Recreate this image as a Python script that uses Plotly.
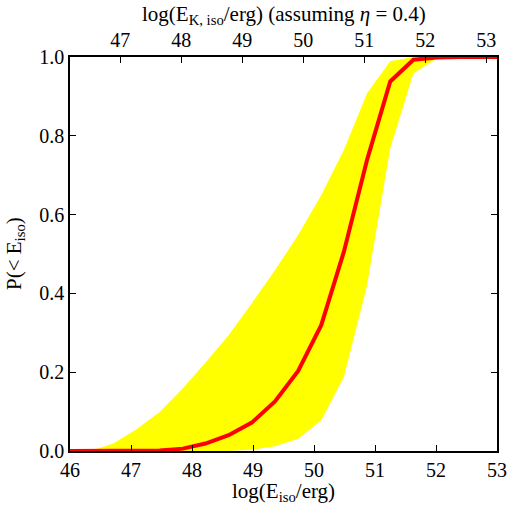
import math
import plotly.graph_objects as go

# grid of log(E_iso/erg)
log_e = [45.95, 46.33, 46.71, 47.09, 47.47, 47.85, 48.22, 48.60, 48.98, 49.36,
         49.74, 50.12, 50.49, 50.87, 51.25, 51.63, 52.01, 52.39, 52.77, 53.15]
p_median = [0.0, 0.0, 0.0, 0.0, 0.001, 0.006, 0.019, 0.040, 0.072, 0.126,
            0.203, 0.320, 0.506, 0.739, 0.938, 0.993, 0.999, 1.0, 1.0, 1.0]
p_upper = [0.0, 0.0, 0.019, 0.055, 0.099, 0.159, 0.224, 0.294, 0.375, 0.459,
           0.548, 0.650, 0.764, 0.908, 0.989, 1.0, 1.0, 1.0, 1.0, 1.0]
p_lower = [0.0, 0.0, 0.0, 0.0, 0.0, 0.0, 0.0, 0.0, 0.003, 0.012,
           0.031, 0.078, 0.188, 0.421, 0.769, 0.958, 0.996, 1.0, 1.0, 1.0]

eta = 0.4
shift = math.log10((1 - eta) / eta)  # log E_K = log E_iso + shift

bottom_ticks = [46, 47, 48, 49, 50, 51, 52, 53]
top_ticks = [47, 48, 49, 50, 51, 52, 53]
y_ticks = [0.0, 0.2, 0.4, 0.6, 0.8, 1.0]

x_title = "log(E<sub>iso</sub>/erg)"
x2_title = "log(E<sub>K, iso</sub>/erg) (assuming <i>η</i> = 0.4)"
y_title = "P(&lt; E<sub>iso</sub>)"

font_family = "Liberation Serif, DejaVu Serif, serif"

fig = go.Figure()
fig.add_trace(go.Scatter(x=log_e, y=p_lower, mode="lines", line=dict(width=0, color="yellow"),
                         showlegend=False, hoverinfo="skip"))
fig.add_trace(go.Scatter(x=log_e, y=p_upper, mode="lines", line=dict(width=0, color="yellow"),
                         fill="tonexty", fillcolor="#ffff00", showlegend=False, hoverinfo="skip"))
fig.add_trace(go.Scatter(x=log_e, y=p_median, mode="lines", line=dict(width=4, color="#ff0000"),
                         showlegend=False))
# dummy trace to activate top axis
fig.add_trace(go.Scatter(x=[v + shift for v in log_e], y=p_median, mode="lines",
                         line=dict(width=0), opacity=0, xaxis="x2", showlegend=False, hoverinfo="skip"))

axis_common = dict(showgrid=False, zeroline=False, showline=True, linecolor="black", linewidth=1.5,
                   ticks="inside", ticklen=6, tickwidth=1, tickcolor="black", automargin=False,
                   tickfont=dict(family=font_family, size=20, color="black"))

title_font = dict(family=font_family, size=21, color="black")

fig.update_layout(
    width=509, height=505,
    margin=dict(l=70, r=12, t=57, b=54),
    plot_bgcolor="white", paper_bgcolor="white",
    font=dict(family=font_family, color="black"),
    xaxis=dict(range=[46, 53], tickvals=bottom_ticks, ticktext=[str(t) for t in bottom_ticks],
               **axis_common),
    xaxis2=dict(range=[46 + shift, 53 + shift], overlaying="x", side="top", anchor="y",
                tickvals=top_ticks, ticktext=[str(t) for t in top_ticks],
                **axis_common),
    yaxis=dict(range=[0, 1], tickvals=y_ticks, ticktext=[f"{v:.1f}" for v in y_ticks], mirror="ticks",
               **axis_common),
    annotations=[
        dict(text=x_title, xref="paper", yref="paper", x=0.5, y=0, yshift=-41,
             xanchor="center", yanchor="middle", showarrow=False, font=title_font),
        dict(text=x2_title, xref="paper", yref="paper", x=0.5, y=1, yshift=42,
             xanchor="center", yanchor="middle", showarrow=False, font=title_font),
        dict(text=y_title, xref="paper", yref="paper", x=0, y=0.5, xshift=-55, textangle=-90,
             xanchor="center", yanchor="middle", showarrow=False, font=title_font),
    ],
)

fig.write_html("out.html", config={"displayModeBar": False},
               post_script="document.body.style.margin='0';")
